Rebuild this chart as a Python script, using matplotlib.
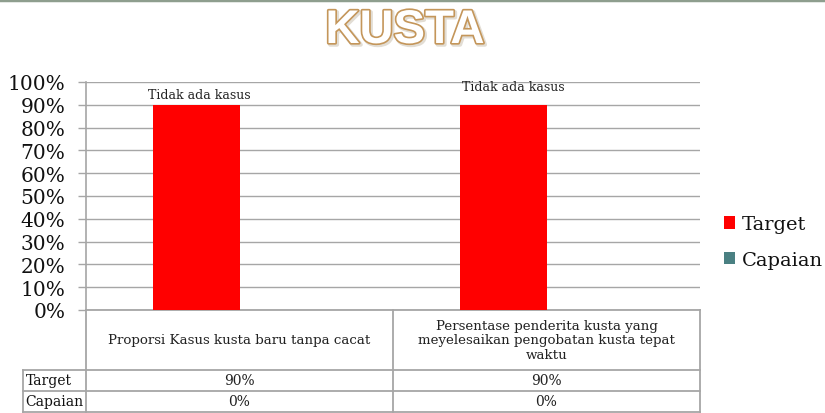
import matplotlib
matplotlib.use("Agg")
import matplotlib.pyplot as plt
import matplotlib.patheffects as pe
from matplotlib.lines import Line2D
import numpy as np

title = "KUSTA"
categories = ["Proporsi Kasus kusta baru tanpa cacat",
              "Persentase penderita kusta yang\nmeyelesaikan pengobatan kusta tepat\nwaktu"]
series_names = ["Target", "Capaian"]
target = [0.90, 0.90]
capaian = [0.0, 0.0]
target_labels = ["90%", "90%"]
capaian_labels = ["0%", "0%"]
data_labels = ["Tidak ada kasus", "Tidak ada kasus"]
yticks = [0.0, 0.1, 0.2, 0.3, 0.4, 0.5, 0.6, 0.7, 0.8, 0.9, 1.0]

RED = "#FF0000"
TEAL = "#4A8082"
GRID = "#A6A6A6"
SERIF = ["DejaVu Serif"]
TXT = "#222222"

fig = plt.figure(figsize=(8.25, 4.14), dpi=100)
W, H = 825, 414
ax = fig.add_axes([86 / W, 103 / H, 614 / W, 228 / H])

x = np.arange(len(categories))
w = 0.283
bt = ax.bar(x - w / 2, target, w, color=RED, zorder=3, label=series_names[0])
bc = ax.bar(x + w / 2, capaian, w, color=TEAL, zorder=3, label=series_names[1])

ax.set_xlim(-0.5, len(categories) - 0.5)
ax.set_ylim(0, 1.0)
ax.set_yticks(yticks)
ax.set_yticklabels([f"{int(round(v * 100))}%" for v in yticks], fontfamily=SERIF, fontsize=14.5)
ax.tick_params(axis="y", length=6, color=GRID, width=1, pad=9, labelcolor="#111111")
ax.set_xticks([])
ax.grid(axis="y", color=GRID, linewidth=1, zorder=0)
for s in ["top", "right", "bottom"]:
    ax.spines[s].set_visible(False)
ax.spines["left"].set_color(GRID)
ax.spines["left"].set_linewidth(1.2)

# data labels
offsets = [(0.01, 0.047), (0.035, 0.082)]
for i, lab in enumerate(data_labels):
    ax.text(x[i] - w / 2 + offsets[i][0], target[i] + offsets[i][1], lab,
            ha="center", va="center", fontfamily=SERIF, fontsize=9, color=TXT)

# table drawn below axes (axes coordinates)
tr = ax.transAxes
lc = GRID
lw = 1.3
y0, y1, y2, y3 = 0.0, -0.263, -0.355, -0.447
xl = -0.1026
def hline(yv, xa, xb):
    ax.add_line(Line2D([xa, xb], [yv, yv], transform=tr, color=lc, lw=lw, clip_on=False))
def vline(xv, ya, yb):
    ax.add_line(Line2D([xv, xv], [ya, yb], transform=tr, color=lc, lw=lw, clip_on=False))

hline(y0, 0, 1)
hline(y1, xl, 1)
hline(y2, xl, 1)
hline(y3, xl, 1)
vline(0, y0, y3)
vline(1, y0, y3)
vline(0.5, y0, y3)
vline(xl, y1, y3)

ncat = len(categories)
for i, cat in enumerate(categories):
    cx = (i + 0.5) / ncat
    ax.text(cx, (y0 + y1) / 2, cat, transform=tr, ha="center", va="center",
            fontfamily=SERIF, fontsize=9.6, color=TXT, linespacing=1.15)
    ax.text(cx, (y1 + y2) / 2, target_labels[i], transform=tr, ha="center", va="center",
            fontfamily=SERIF, fontsize=10, color=TXT)
    ax.text(cx, (y2 + y3) / 2, capaian_labels[i], transform=tr, ha="center", va="center",
            fontfamily=SERIF, fontsize=10, color=TXT)
ax.text(xl + 0.004, (y1 + y2) / 2, series_names[0], transform=tr, ha="left", va="center",
        fontfamily=SERIF, fontsize=10, color="#111111")
ax.text(xl + 0.004, (y2 + y3) / 2, series_names[1], transform=tr, ha="left", va="center",
        fontfamily=SERIF, fontsize=10, color="#111111")

# legend
fig.legend(handles=[bt, bc], labels=series_names, loc="center left",
           bbox_to_anchor=(706 / W, 1 - 243 / H), frameon=False,
           prop={"family": SERIF, "size": 14}, handlelength=0.6, handleheight=0.6,
           handletextpad=0.35, labelspacing=0.9, labelcolor="#111111")

# title
fig.text(405 / W, 1 - 32 / H, title, ha="center", va="center", fontsize=34,
         fontweight="bold", fontfamily=["Liberation Sans", "DejaVu Sans"], color="white",
         path_effects=[pe.Stroke(linewidth=3, foreground="#E2DDD4", offset=(1.2, -1.2)),
                       pe.Stroke(linewidth=2.4, foreground="#C4965A"),
                       pe.Normal()])

# top border line
fig.add_artist(Line2D([0, 1], [1 - 1 / H, 1 - 1 / H], transform=fig.transFigure,
                      color="#8E9E8E", lw=2.5))

fig.savefig("out.png", dpi=100)
